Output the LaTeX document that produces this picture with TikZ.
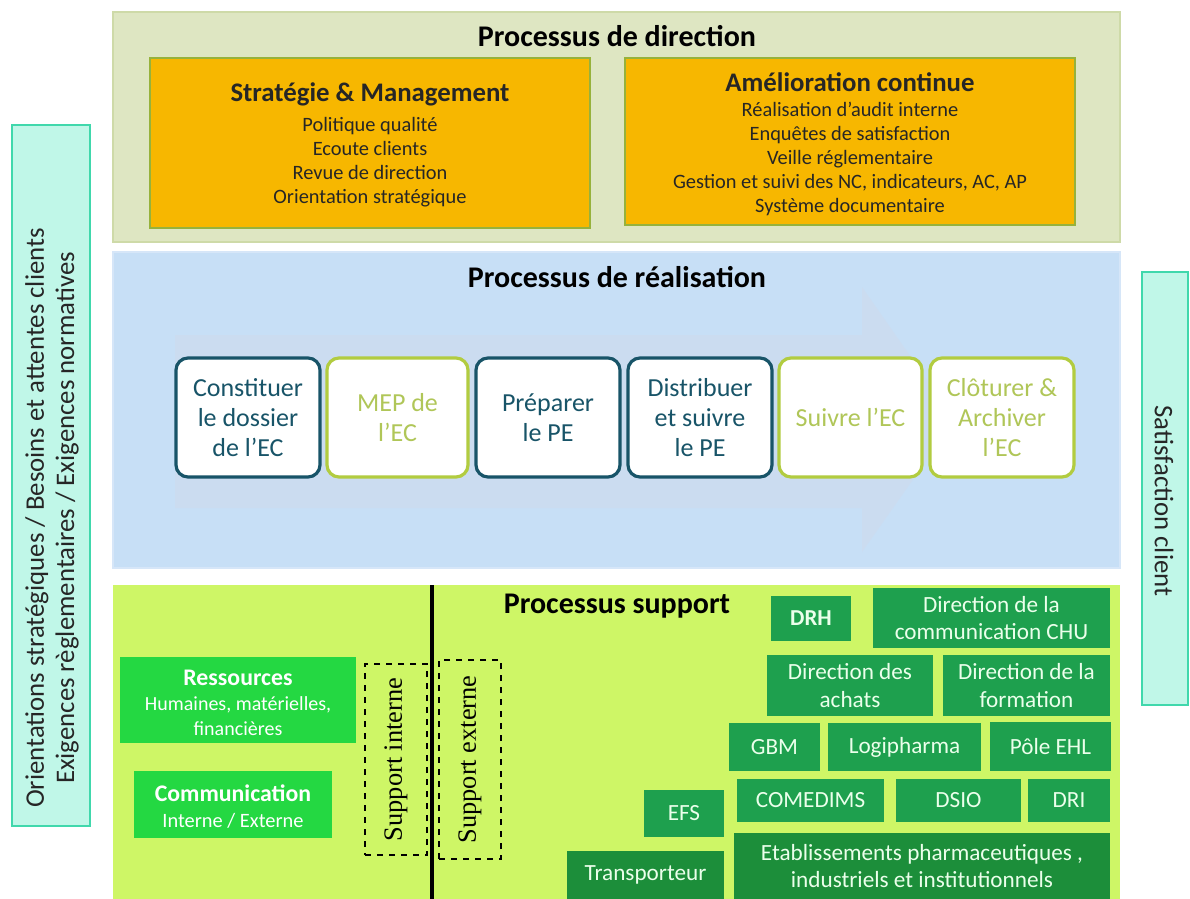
\documentclass[tikz,border=0pt]{standalone}
\usepackage{fontspec}
\setmainfont{Carlito}
\newfontfamily\serifface{Liberation Serif}
\usetikzlibrary{fit}

% colours
\definecolor{dirbg}{RGB}{222,230,194}
\definecolor{dirline}{RGB}{206,218,168}
\definecolor{orangefill}{RGB}{247,183,0}
\definecolor{orangeline}{RGB}{150,178,60}
\definecolor{realbg}{RGB}{199,223,246}
\definecolor{realline}{RGB}{214,230,248}
\definecolor{arrowtint}{RGB}{214,214,228}
\definecolor{teal}{RGB}{24,84,104}
\definecolor{lightgreen}{RGB}{178,204,64}
\definecolor{lighttext}{RGB}{176,198,88}
\definecolor{suppbg}{RGB}{206,246,102}
\definecolor{brightgreen}{RGB}{36,216,66}
\definecolor{darkgreen}{RGB}{30,160,78}
\definecolor{darkergreen}{RGB}{28,142,58}
\definecolor{aquafill}{RGB}{192,247,232}
\definecolor{aqualine}{RGB}{64,216,172}

\tikzset{
  panel/.style={inner sep=0pt, line width=1pt},
  ptitle/.style={font=\bfseries\fontsize{15}{17}\selectfont, text=black},
  orangebox/.style={draw=orangeline, fill=orangefill, line width=0.8pt, inner sep=0pt},
  otitle/.style={font=\bfseries\fontsize{13.4}{15}\selectfont, text=black!85},
  oitems/.style={font=\fontsize{10.2}{12.1}\selectfont, align=center, text=black!85},
  stepbox/.style={draw=#1, fill=white, line width=1.6pt, rounded corners=6pt, inner sep=0pt},
  steptext/.style={font=\fontsize{13}{15}\selectfont, align=center, text=#1},
  brightbox/.style={fill=brightgreen, inner sep=0pt},
  darkbox/.style={fill=darkgreen, inner sep=0pt},
  dtext/.style={text=white!92!green, font=\fontsize{11.6}{13.6}\selectfont, align=center, inner sep=0pt},
  dashbox/.style={draw=black, dashed, line width=0.6pt, inner sep=0pt},
  sidebox/.style={draw=aqualine, fill=aquafill, line width=1pt, inner sep=0pt},
  sidetext/.style={font=\fontsize{13.4}{15.2}\selectfont, align=center, text=black!85},
  vserif/.style={rotate=90, font=\serifface\fontsize{13.2}{14}\selectfont},
}

\begin{document}
\begin{tikzpicture}[x=0.5pt, y=-0.5pt]
\useasboundingbox (0,0) rectangle (1190,899);
\fill[white] (0,0) rectangle (1190,899);

% ---------- direction ----------
\node[panel, draw=dirline, fill=dirbg, fit={(113,12) (1120,242)}] (dir) {};
\node[ptitle] (dirtitle) at (617,36) {Processus de direction};

\node[orangebox, fit={(150,58) (590,228)}] (strat) {};
\node[otitle] (strattitle) at (370,94) {Stratégie \& Management};
\node[oitems] (stratitems) at (370,162) {Politique qualité\\Ecoute clients\\Revue de direction\\Orientation stratégique};

\node[orangebox, fit={(625,58) (1075,225)}] (amel) {};
\node[otitle] (ameltitle) at (850,82) {Amélioration continue};
\node[oitems] (amelitems) at (850,159) {Réalisation d'audit interne\\Enquêtes de satisfaction\\Veille réglementaire\\Gestion et suivi des NC, indicateurs, AC, AP\\Système documentaire};

% ---------- realisation ----------
\node[panel, draw=realline, fill=realbg, fit={(113,252) (1120,568)}] (real) {};
\fill[arrowtint, opacity=0.3]
  (175,335) -- (862,335) -- (862,287) -- (955,420) -- (862,552) -- (862,508) -- (175,508) -- cycle;
\node[ptitle] (realtitle) at (617,277) {Processus de réalisation};

\node[stepbox=teal, fit={(176,358) (320,477)}, label={[steptext=teal]center:{Constituer\\le dossier\\de l'EC}}] (s1) {};
\node[stepbox=lightgreen, fit={(327,358) (468,477)}, label={[steptext=lighttext]center:{MEP de\\l'EC}}] (s2) {};
\node[stepbox=teal, fit={(476,358) (620,477)}, label={[steptext=teal]center:{Préparer\\le PE}}] (s3) {};
\node[stepbox=teal, fit={(628,358) (772,477)}, label={[steptext=teal]center:{Distribuer\\et suivre\\le PE}}] (s4) {};
\node[stepbox=lightgreen, fit={(779,358) (922,477)}, label={[steptext=lighttext]center:{Suivre l'EC}}] (s5) {};
\node[stepbox=lightgreen, fit={(930,358) (1074,477)}, label={[steptext=lighttext]center:{Clôturer \&\\Archiver\\l'EC}}] (s6) {};

% ---------- support ----------
\node[panel, fill=suppbg, fit={(113,585) (1120,899)}] (supp) {};
\coordinate (divtop) at (432,585);
\coordinate (divbot) at (432,899);
\draw[line width=1.6pt] (divtop) -- (divbot);
\node[ptitle] (supptitle) at (617,606) {Processus support};

\node[brightbox, fit={(120,657) (356,743)}] (res) {};
\node[font=\bfseries\fontsize{11.9}{13}\selectfont, text=white] (restitle) at (238,678) {Ressources};
\node[font=\fontsize{10}{12.4}\selectfont, text=white, align=center] (resitems) at (238,716) {Humaines, matérielles,\\financières};

\node[brightbox, fit={(134,771) (332,838)}] (com) {};
\node[font=\bfseries\fontsize{11.9}{13}\selectfont, text=white] (comtitle) at (233,793) {Communication};
\node[font=\fontsize{10.2}{11}\selectfont, text=white] (comitems) at (233,821) {Interne / Externe};

\node[dashbox, fit={(365,664) (427,855)}, label={[vserif]center:Support interne}] (sint) {};
\node[dashbox, fit={(439,660) (501,859)}, label={[vserif]center:Support externe}] (sext) {};

\node[darkbox, fit={(771,596) (851,641)}, label={[dtext, font=\bfseries\fontsize{11.4}{13}\selectfont]center:DRH}] (drh) {};
\node[darkbox, fit={(873,588) (1110,648)}, label={[dtext]center:{Direction de la\\communication CHU}}] (dcom) {};
\node[darkbox, fit={(767,655) (933,716)}, label={[dtext]center:{Direction des\\achats}}] (dach) {};
\node[darkbox, fit={(943,655) (1110,716)}, label={[dtext]center:{Direction de la\\formation}}] (dform) {};
\node[darkbox, fit={(729,723) (820,771)}, label={[dtext]center:GBM}] (gbm) {};
\node[darkbox, fit={(828,723) (981,771)}, label={[dtext]center:Logipharma}] (logi) {};
\node[darkbox, fit={(990,722) (1111,771)}, label={[dtext]center:Pôle EHL}] (ehl) {};
\node[darkbox, fit={(644,790) (724,837)}, label={[dtext]center:EFS}] (efs) {};
\node[darkbox, fit={(737,779) (884,822)}, label={[dtext]center:COMEDIMS}] (comed) {};
\node[darkbox, fit={(896,779) (1021,822)}, label={[dtext]center:DSIO}] (dsio) {};
\node[darkbox, fit={(1028,779) (1110,822)}, label={[dtext]center:DRI}] (dri) {};
\node[darkbox, fill=darkergreen, fit={(734,833) (1110,899)}, label={[dtext]center:{Etablissements pharmaceutiques ,\\industriels et institutionnels}}] (etab) {};
\node[darkbox, fill=darkergreen, fit={(567,851) (724,899)}, label={[dtext]center:Transporteur}] (transp) {};

% ---------- side bands ----------
\node[sidebox, fit={(12,125) (90,826)}] (left) {};
\node[sidetext, rotate=90] (lefttext) at (52,518) {Orientations stratégiques / Besoins et attentes clients\\Exigences règlementaires / Exigences normatives};
\node[sidebox, fit={(1142,272) (1188,705)}] (right) {};
\node[sidetext, rotate=-90] (righttext) at (1164,501) {Satisfaction client};
\end{tikzpicture}
\end{document}
